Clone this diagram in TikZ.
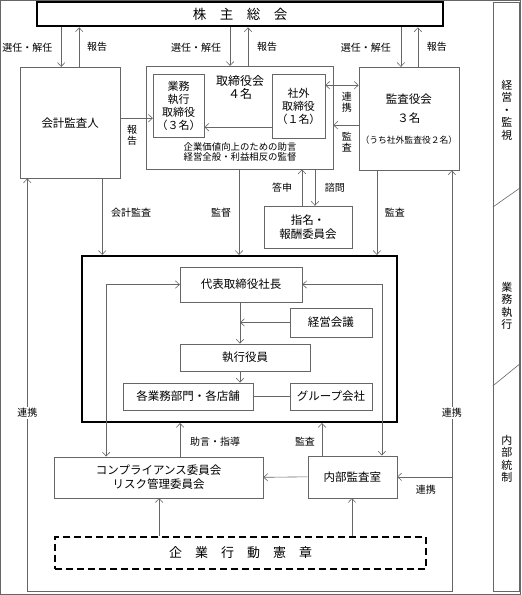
\documentclass[tikz,border=0pt]{standalone}
\usepackage{fontspec}
\setmainfont{Noto Sans CJK JP}
\usetikzlibrary{arrows.meta}
\definecolor{linegray}{gray}{0.4}
\tikzset{
  box/.style={draw=linegray, line width=0.6pt, inner sep=0pt, align=center,
    font=\fontsize{11.5}{14}\selectfont},
  heavybox/.style={draw=black, line width=2.2pt, inner sep=0pt, align=center},
  lbl/.style={inner sep=1pt, font=\fontsize{10}{11}\selectfont, align=center},
  side/.style={inner sep=0pt, font=\fontsize{11}{12.5}\selectfont, align=center}
}
\begin{document}
\begin{tikzpicture}[x=1pt, y=-1pt, >={Straight Barb[length=4pt,width=7.5pt]},
    every path/.style={draw=linegray, line width=0.6pt}]
      \useasboundingbox (0,0) rectangle (521,595);
      \node[heavybox, minimum width=406, minimum height=24,
        font=\fontsize{13.5}{15}\selectfont] (sh) at (240,14) {株　主　総　会};
      \node[box, minimum width=100, minimum height=111] (kaikei) at (70,122.5) {会計監査人};
      \node[box, minimum width=187, minimum height=103] (board) at (239.5,117.5) {};
      \node[box, minimum width=51, minimum height=63, font=\fontsize{11}{13}\selectfont]
        (exec) at (178.5,105.5) {業務\\執行\\取締役\\（３名）};
      \node[box, minimum width=53, minimum height=64, font=\fontsize{11}{13}\selectfont]
        (outside) at (298.5,106) {社外\\取締役\\（１名）};
      \node[inner sep=0pt, align=center, font=\fontsize{12}{13}\selectfont]
        (boardname) at (240,87) {取締役会\\４名};
      \node[inner sep=0pt, align=center, font=\fontsize{9.4}{10.5}\selectfont]
        (boardrole) at (240,152) {企業価値向上のための助言\\経営全般・利益相反の監督};
      \node[box, minimum width=100, minimum height=103] (kansa) at (409,118.5)
        {監査役会\\[5pt]３名\\[7pt]{\fontsize{8.8}{10}\selectfont（うち社外監査役２名）}};
      \node[box, minimum width=88, minimum height=42] (nom) at (308,227) {指名・\\報酬委員会};
      \node[heavybox, minimum width=315, minimum height=166] (exbox) at (239.5,339) {};
      \node[box, minimum width=122, minimum height=35] (pres) at (241,284.5) {代表取締役社長};
      \node[box, minimum width=82, minimum height=29] (keiei) at (331,322.5) {経営会議};
      \node[box, minimum width=130, minimum height=27] (yakuin) at (245,357.5) {執行役員};
      \node[box, minimum width=130, minimum height=27] (bumon) at (188,396.5) {各業務部門・各店舗};
      \node[box, minimum width=82, minimum height=27] (group) at (331,396.5) {グループ会社};
      \node[box, minimum width=209, minimum height=41] (comp) at (158.5,477.5)
        {コンプライアンス委員会\\リスク管理委員会};
      \node[box, minimum width=89, minimum height=42] (naibu) at (352.5,477) {内部監査室};
      \node[draw=black, line width=1.8pt, dash pattern=on 7pt off 4pt, inner sep=0pt,
        minimum width=371, minimum height=32, font=\fontsize{13}{15}\selectfont]
        (charter) at (240.5,553) {企　業　行　動　憲　章};
      \coordinate (lpb) at (27,592);
      \coordinate (rpb) at (452,592);
      % shareholders
      \draw[->] (61,0 |- sh.south) -- (61,0 |- kaikei.north);
      \draw[<-] (79,0 |- sh.south) -- (79,0 |- kaikei.north);
      \draw[->] (230,0 |- sh.south) -- (230,0 |- board.north);
      \draw[<-] (248,0 |- sh.south) -- (248,0 |- board.north);
      \draw[->] (401,0 |- sh.south) -- (401,0 |- kansa.north);
      \draw[<-] (418,0 |- sh.south) -- (418,0 |- kansa.north);
      \node[lbl] (l1) at (27,47) {選任・解任};
      \node[lbl] (l2) at (97,47) {報告};
      \node[lbl] (l3) at (196,47) {選任・解任};
      \node[lbl] (l4) at (267,47) {報告};
      \node[lbl] (l5) at (366,47) {選任・解任};
      \node[lbl] (l6) at (437,47) {報告};
      % board level
      \draw[->] (kaikei.east |- 0,118) -- (exec.west |- 0,118);
      \draw[->] (outside.west |- 0,127) -- (exec.east |- 0,127);
      \draw[<->] (outside.east |- 0,85) -- (kansa.west |- 0,85);
      \draw[->] (kansa.west |- 0,125) -- (board.east |- 0,125);
      \draw[->] (302,0 |- nom.north) -- (302,0 |- board.south);
      \draw[->] (315,0 |- board.south) -- (315,0 |- nom.north);
      \node[lbl] (l7) at (132,135) {報\\告};
      \node[lbl] (l8) at (347,102) {連\\携};
      \node[lbl] (l9) at (347,142) {監\\査};
      \node[lbl] (l10) at (282,188) {答申};
      \node[lbl] (l11) at (335,188) {諮問};
      % into execution
      \draw[->] (102,0 |- kaikei.south) -- (102,0 |- exbox.north);
      \draw[->] (239,0 |- board.south) -- (239,0 |- exbox.north);
      \draw[->] (377,0 |- kansa.south) -- (377,0 |- exbox.north);
      \node[lbl] (l12) at (131,213) {会計監査};
      \node[lbl] (l13) at (221,213) {監督};
      \node[lbl] (l14) at (395,213) {監査};
      \draw[->] (240,0 |- pres.south) -- (240,0 |- yakuin.north);
      \draw[->] (keiei.west) -- (240,0 |- keiei.west);
      \draw[->] (240,0 |- yakuin.south) -- (240,0 |- bumon.north);
      \draw (bumon) -- (group);
      \draw[<->] (pres.west) -| (106,0 |- comp.north);
      \draw[<->] (pres.east) -| (382,0 |- naibu.north);
      % internal control
      \draw[->] (180,0 |- comp.north) -- (180,0 |- exbox.south);
      \draw[->] (322,0 |- naibu.north) -- (322,0 |- exbox.south);
      \draw[->] (naibu.west) -- (comp.east);
      \draw[<->] (kaikei.south -| lpb) -- (lpb) -- (rpb) -- (kansa.south -| rpb);
      \draw[->] (naibu.east -| rpb) -- (naibu.east);
      \draw[->] (159,0 |- charter.north) -- (159,0 |- comp.south);
      \draw[->] (352,0 |- charter.north) -- (352,0 |- naibu.south);
      \node[lbl] (l15) at (215,442) {助言・指導};
      \node[lbl] (l16) at (305,442) {監査};
      \node[lbl] (l17) at (426,490) {連携};
      \node[lbl, fill=white] (l18) at (27,413) {連携};
      \node[lbl, fill=white] (l19) at (452,413) {連携};
      % side column
      \draw (493,2) rectangle (520,592);
      \draw (493,207) -- (520,188);
      \draw (493,386) -- (520,364);
      \node[side] (s1) at (507,110) {経\\営\\・\\監\\視};
      \node[side] (s2) at (507,306) {業\\務\\執\\行};
      \node[side] (s3) at (507,459) {内\\部\\統\\制};
\end{tikzpicture}
\end{document}
